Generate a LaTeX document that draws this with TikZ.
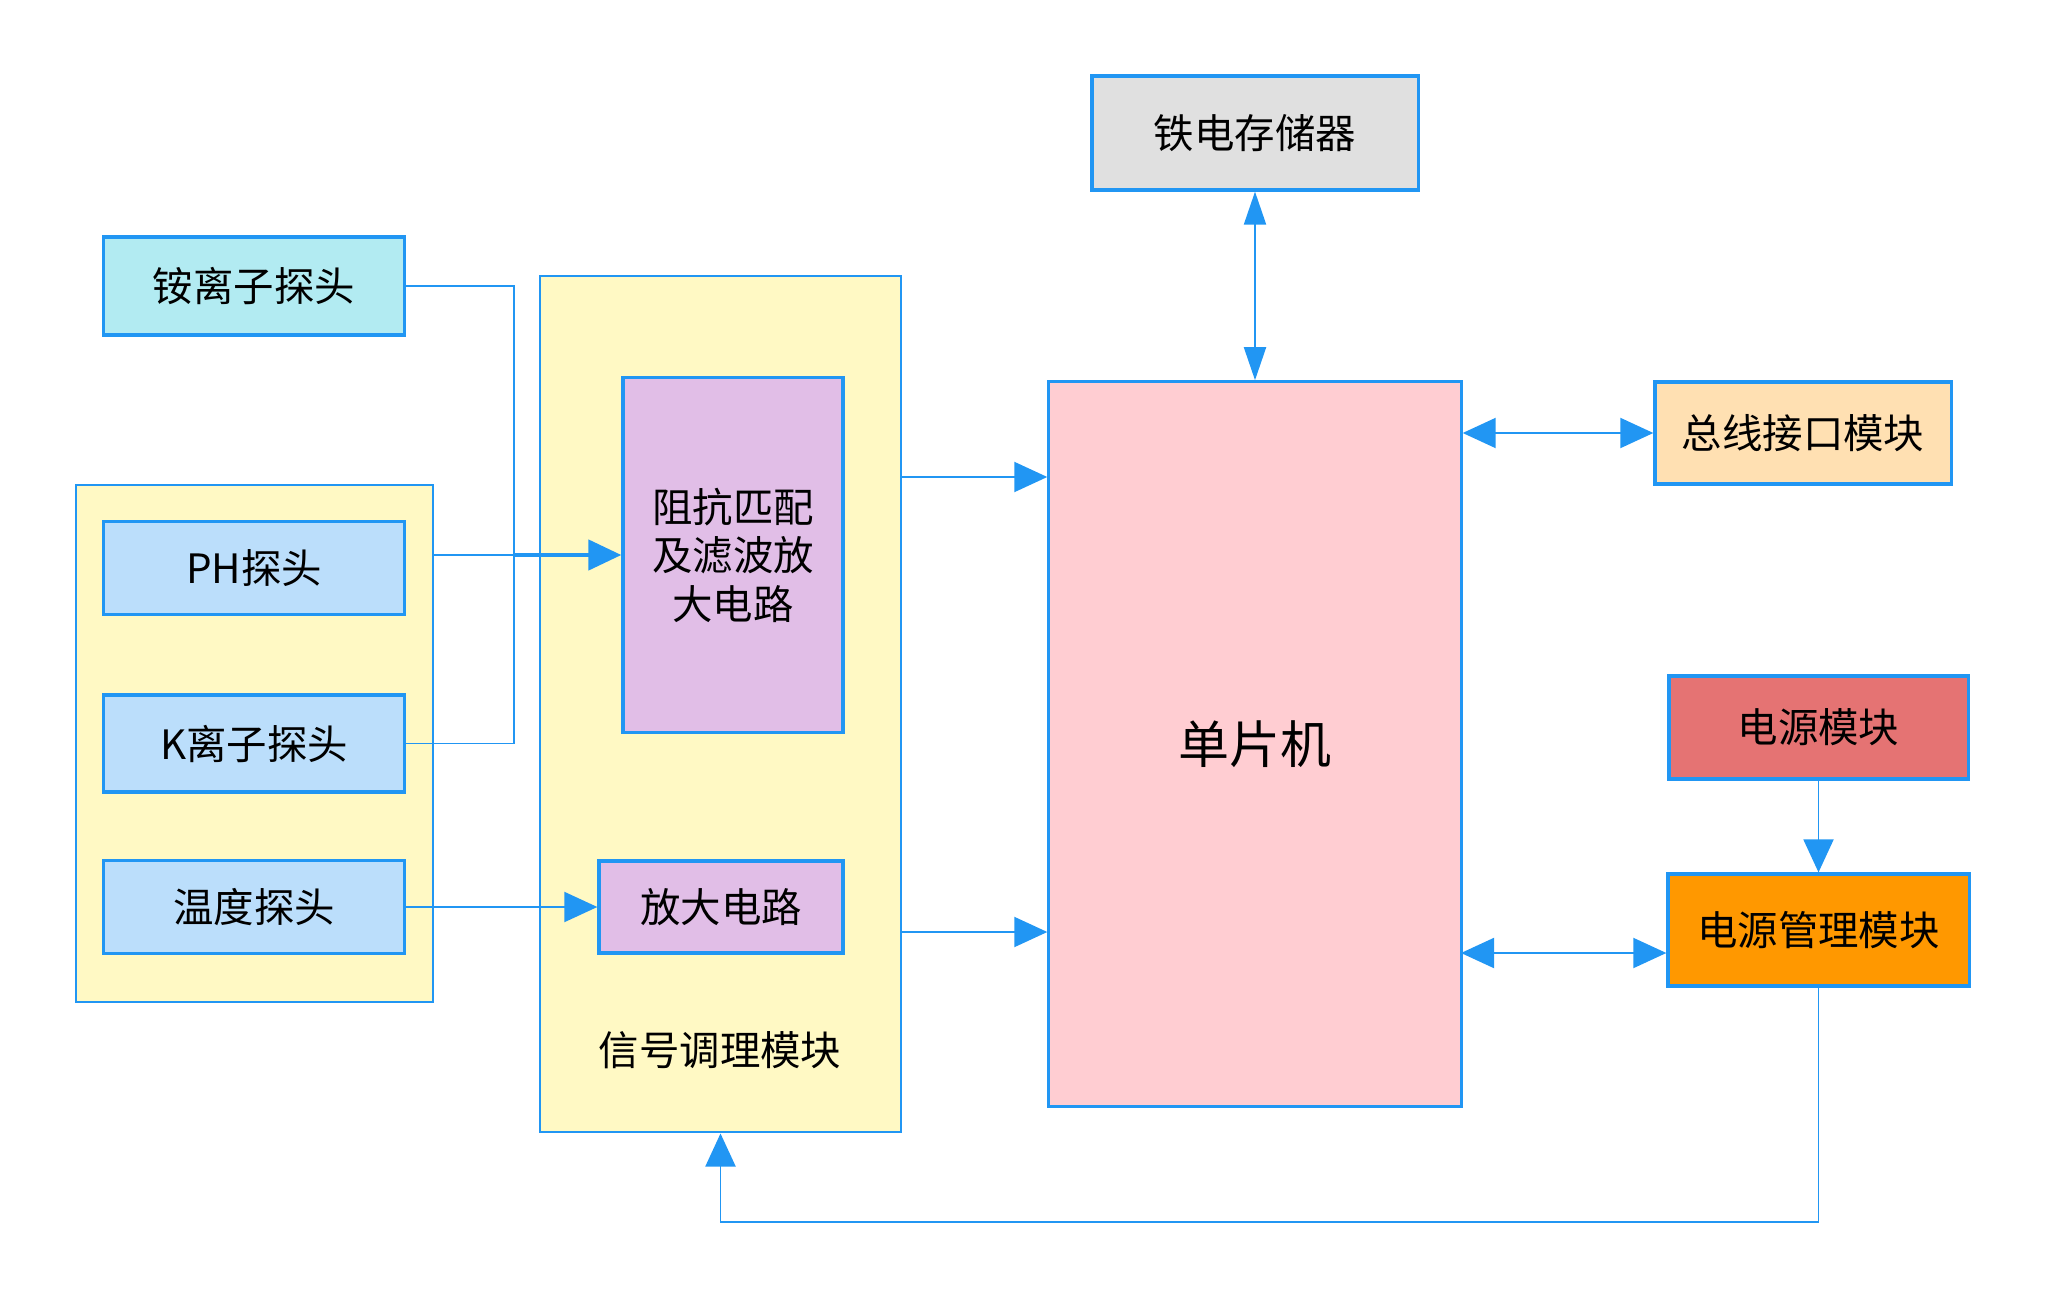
\documentclass[tikz,border=0pt]{standalone}
\usepackage{fontspec}
\setmainfont{Noto Sans CJK SC}
\usetikzlibrary{arrows.meta, positioning}
\definecolor{edgeblue}{HTML}{2196F3}
\definecolor{paleyellow}{HTML}{FFF9C4}
\definecolor{ammcyan}{HTML}{B2EBF2}
\definecolor{probeblue}{HTML}{BBDEFB}
\definecolor{circpurple}{HTML}{E1BEE7}
\definecolor{framgray}{HTML}{E0E0E0}
\definecolor{mcupink}{HTML}{FFCDD2}
\definecolor{buspeach}{HTML}{FFE0B2}
\definecolor{pwrred}{HTML}{E57373}
\definecolor{pmorange}{HTML}{FF9800}
\tikzset{
    box/.style={rectangle, draw=edgeblue, line width=0.9pt, align=center, inner sep=0pt, font=\fontsize{11.5}{13.8}\selectfont},
    probe/.style={box, fill=probeblue, minimum width=3cm, minimum height=0.93cm},
    group/.style={rectangle, draw=edgeblue, line width=0.7pt, fill=paleyellow, inner sep=0pt},
    link/.style={draw=edgeblue, line width=0.55pt},
    arrow/.style={link, -{Triangle[length=0.33cm, width=0.3cm]}},
    biarrow/.style={link, {Triangle[length=0.33cm, width=0.3cm]}-{Triangle[length=0.33cm, width=0.3cm]}}
}
\begin{document}
\begin{tikzpicture}[x=0.01cm, y=-0.01cm]
    \useasboundingbox (0,0) rectangle (2045,1297);

    % containers
    \node (probes) [group, minimum width=3.57cm, minimum height=5.17cm] at (254.5,743.5) {};
    \node (cond) [group, minimum width=3.61cm, minimum height=8.56cm] at (720.5,704) {};

    % probes
    \node (amm) [probe, fill=ammcyan, minimum height=0.98cm] at (254,286) {铵离子探头};
    \node (ph) [probe] at (254,568) {PH探头};
    \node (kion) [probe, minimum height=0.97cm] at (254,743.5) {K离子探头};
    \node (temp) [probe] at (254,907) {温度探头};

    % signal conditioning
    \node (filt) [box, fill=circpurple, minimum width=2.2cm, minimum height=3.54cm] at (733,555) {阻抗匹配\\及滤波放\\大电路};
    \node (amp) [box, fill=circpurple, minimum width=2.44cm, minimum height=0.92cm] at (721,907) {放大电路};
    \node (condlabel) [font=\fontsize{11.5}{13.8}\selectfont] at (720,1050) {信号调理模块};

    % controller side
    \node (fram) [box, fill=framgray, minimum width=3.26cm, minimum height=1.14cm] at (1255,133) {铁电存储器};
    \node (mcu) [box, fill=mcupink, minimum width=4.12cm, minimum height=7.24cm, font=\fontsize{14.5}{17}\selectfont] at (1255,744) {单片机};
    \node (bus) [box, fill=buspeach, minimum width=2.96cm, minimum height=1.02cm] at (1803,433) {总线接口模块};
    \node (pwr) [box, fill=pwrred, minimum width=2.99cm, minimum height=1.03cm] at (1818.5,727.5) {电源模块};
    \node (pmgmt) [box, fill=pmorange, minimum width=3.01cm, minimum height=1.12cm] at (1818.5,930) {电源管理模块};

    % helper points
    \coordinate (merge) at (514,743.5);
    \coordinate (out1) at (901,477);
    \coordinate (out2) at (901,932);
    \coordinate (pm1) at (1461,953);
    \coordinate (fb) at (1818.5,1222);

    % probe wiring
    \draw[link] (amm.east) -| (merge) -- (kion.east);
    \draw[link] (probes.east |- filt.west) -- (merge |- filt.west);
    \draw[arrow, line width=1.3pt] (merge |- filt.west) -- (filt.west);
    \draw[arrow] (temp.east) -- (amp.west);

    % to the controller
    \draw[arrow] (out1) -- (out1 -| mcu.west);
    \draw[arrow] (out2) -- (out2 -| mcu.west);
    \draw[link, {Triangle[length=0.33cm, width=0.22cm]}-{Triangle[length=0.33cm, width=0.22cm]}] (fram.south) -- (mcu.north);
    \draw[biarrow] (bus.west -| mcu.east) -- (bus.west);
    \draw[biarrow] (pm1) -- (pm1 -| pmgmt.west);
    \draw[arrow] (pwr.south) -- (pmgmt.north);
    \draw[arrow] (pmgmt.south) -- (fb) -| (cond.south);
\end{tikzpicture}
\end{document}
